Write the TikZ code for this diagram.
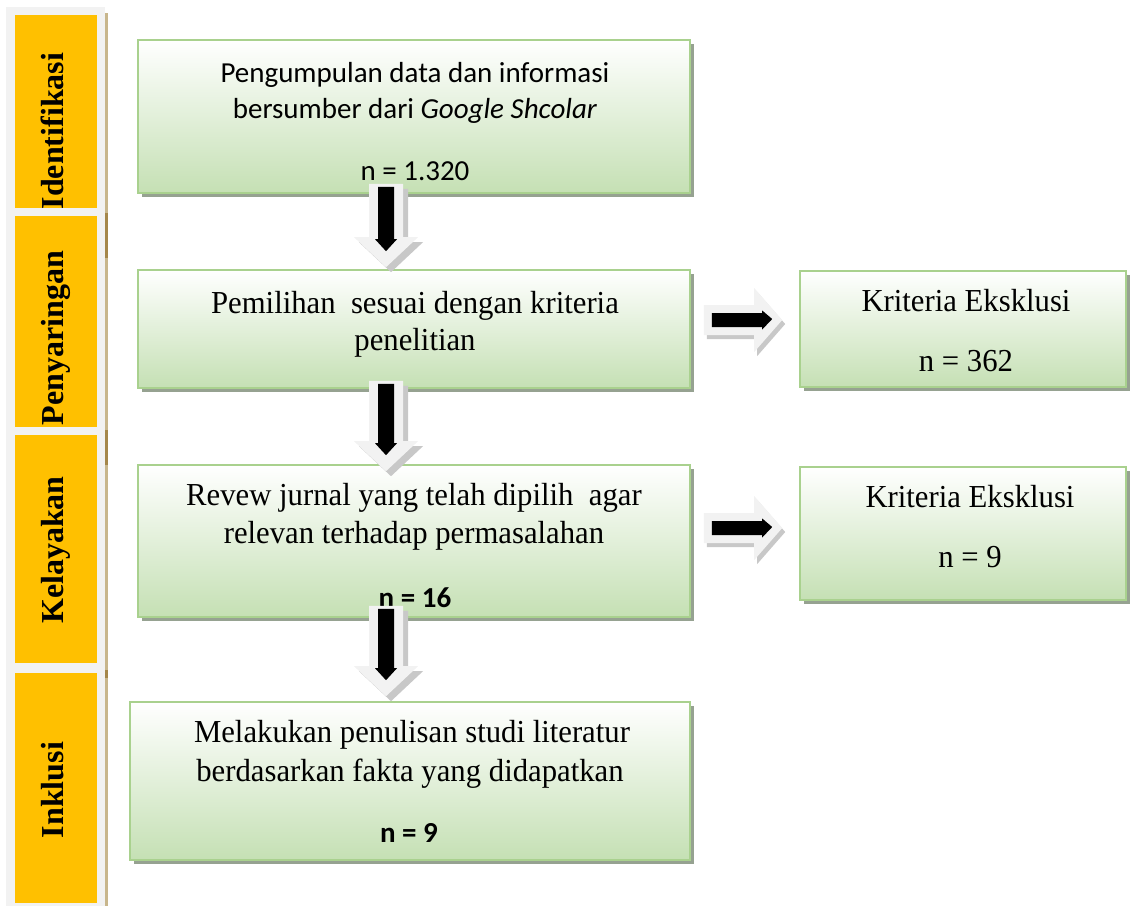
\documentclass[tikz,border=0pt]{standalone}
\usepackage{fontspec}
\setmainfont{Liberation Serif}
\newfontfamily\boxserif[FakeStretch=0.96]{Liberation Serif}
\newfontfamily\calibri{Carlito}
\usetikzlibrary{calc,shadows}
\definecolor{boxgreen}{RGB}{169,209,142}
\definecolor{boxfill}{RGB}{197,224,180}
\definecolor{shadowc}{RGB}{150,162,145}
\definecolor{orangec}{RGB}{255,192,0}
\definecolor{panelgray}{RGB}{242,242,242}
\definecolor{tanline}{RGB}{200,182,140}
\definecolor{tandark}{RGB}{165,135,75}
\definecolor{arrowfill}{RGB}{242,242,242}
\definecolor{arrowshadow}{RGB}{200,200,200}
\tikzset{
  greenbox/.style={draw=boxgreen, line width=1.6pt, top color=white, bottom color=boxfill, inner sep=0pt,
    general shadow={fill=shadowc, shadow xshift=4pt, shadow yshift=-4pt}},
  stagebox/.style={fill=orangec, inner sep=0pt},
  stagelabel/.style={rotate=90, anchor=base, font=\fontsize{32}{36}\selectfont\bfseries, inner sep=0pt},
  serif/.style={font=\boxserif\fontsize{32}{36}\selectfont, inner sep=0pt, anchor=base},
  sanstext/.style={font=\calibri\fontsize{29}{34}\selectfont, inner sep=0pt, anchor=base},
  sansbold/.style={font=\calibri\bfseries\fontsize{29}{34}\selectfont, inner sep=0pt, anchor=base},
  hollowdown/.style={fill=arrowfill, general shadow={fill=arrowshadow, shadow xshift=5pt, shadow yshift=-5pt}},
  hollowright/.style={fill=arrowfill, general shadow={fill=arrowshadow, shadow xshift=3pt, shadow yshift=-4pt}},
  blackarrow/.style={fill=black},
}
\newcommand\downconn[2]{%
  \path[hollowdown] let \p1=(#1), \p2=(#2) in
    ({\x1-17pt},\y1) -- ({\x1+17pt},\y1) -- ({\x1+17pt},{\y2+30pt}) -- ({\x1+32pt},{\y2+30pt})
    -- (\x1,\y2) -- ({\x1-32pt},{\y2+30pt}) -- ({\x1-17pt},{\y2+30pt}) -- cycle;
  \path[blackarrow] let \p1=(#1), \p2=(#2) in
    ({\x1-8pt},{\y1-3pt}) -- ({\x1+8pt},{\y1-3pt}) -- ({\x1+8pt},{\y2+28pt}) -- ({\x1+11pt},{\y2+28pt})
    -- (\x1,{\y2+16pt}) -- ({\x1-11pt},{\y2+28pt}) -- ({\x1-8pt},{\y2+28pt}) -- cycle;
}
\newcommand\rightconn[2]{%
  \path[hollowright] let \p1=(#1), \p2=(#2) in
    (\x1,{\y1+15pt}) -- ({\x2-28pt},{\y1+15pt}) -- ({\x2-28pt},{\y1+32pt}) -- (\x2,\y1)
    -- ({\x2-28pt},{\y1-32pt}) -- ({\x2-28pt},{\y1-15pt}) -- (\x1,{\y1-15pt}) -- cycle;
  \path[blackarrow] let \p1=(#1), \p2=(#2) in
    ({\x1+8pt},{\y1+7pt}) -- ({\x2-20pt},{\y1+7pt}) -- ({\x2-20pt},{\y1+9.5pt}) -- ({\x2-10pt},{\y1+1pt})
    -- ({\x2-20pt},{\y1-9.5pt}) -- ({\x2-20pt},{\y1-7pt}) -- ({\x1+8pt},{\y1-7pt}) -- cycle;
}
\begin{document}
\begin{tikzpicture}[x=1pt,y=-1pt]
\useasboundingbox (0,0) rectangle (1131,908);
% left stage column
\fill[panelgray] (6,7) rectangle (105,906);
\draw[tanline, line width=3pt] (106.5,13) -- (106.5,906);
\foreach \a/\b in {213/258, 430/465, 670/678}
  \draw[tandark, line width=3pt] (106.5,\a) -- (106.5,\b);
\node[stagebox, minimum width=82, minimum height=193] (s1) at (56,111.5) {};
\node[stagebox, minimum width=82, minimum height=211] (s2) at (56,321.5) {};
\node[stagebox, minimum width=82, minimum height=228] (s3) at (56,549) {};
\node[stagebox, minimum width=82, minimum height=230] (s4) at (56,788) {};
\node[stagelabel] (l1) at (63,131) {Identifikasi};
\node[stagelabel] (l2) at (63,338) {Penyaringan};
\node[stagelabel] (l3) at (63,550) {Kelayakan};
\node[stagelabel] (l4) at (63,790) {Inklusi};
% main boxes
\node[greenbox, minimum width=552, minimum height=153] (b1) at (414,116.5) {};
\node[greenbox, minimum width=552, minimum height=118] (b2) at (414,329) {};
\node[greenbox, minimum width=552, minimum height=152] (b3) at (414,541) {};
\node[greenbox, minimum width=560, minimum height=158] (b4) at (410,781) {};
\node[greenbox, minimum width=326, minimum height=116] (r1) at (963,329) {};
\node[greenbox, minimum width=326, minimum height=133] (r2) at (963,533.5) {};
% texts
\node[sanstext] (t1a) at (415,82) {Pengumpulan data dan informasi};
\node[sanstext] (t1b) at (415,118) {bersumber dari \textit{Google Shcolar}};
\node[sanstext] (t1c) at (415,180) {n = 1.320};
\node[serif] (t2a) at (415,313) {Pemilihan~ sesuai dengan kriteria};
\node[serif] (t2b) at (415,350) {penelitian};
\node[serif] (t3a) at (414,505) {Revew jurnal yang telah dipilih~ agar};
\node[serif] (t3b) at (414,543) {relevan terhadap permasalahan};
\node[sansbold] (t3c) at (415,607) {n = 16};
\node[serif] (t4a) at (412,742) {Melakukan penulisan studi literatur};
\node[serif] (t4b) at (410,781) {berdasarkan fakta yang didapatkan};
\node[sansbold] (t4c) at (409,842) {n = 9};
\node[serif] (tr1a) at (966,311) {Kriteria Eksklusi};
\node[serif] (tr1b) at (966,371) {n = 362};
\node[serif] (tr2a) at (970,507) {Kriteria Eksklusi};
\node[serif] (tr2b) at (970,567) {n = 9};
% connector end points
\coordinate (d1s) at ($(b1.south)+(-28,-10)$);
\coordinate (d1e) at ($(b2.north)+(-28,-2)$);
\coordinate (d2s) at ($(b2.south)+(-28,-8)$);
\coordinate (d2e) at ($(b3.north)+(-28,7)$);
\coordinate (d3s) at ($(b3.south)+(-28,-12)$);
\coordinate (d3e) at ($(b4.north)+(-24,-5)$);
\coordinate (h1s) at ($(b2.east)+(13,-9)$);
\coordinate (h1e) at ($(r1.west)+(-17,-9)$);
\coordinate (h2s) at ($(b3.east)+(13,-13)$);
\coordinate (h2e) at ($(r2.west)+(-17,-5.5)$);
\downconn{d1s}{d1e}
\downconn{d2s}{d2e}
\downconn{d3s}{d3e}
\rightconn{h1s}{h1e}
\rightconn{h2s}{h2e}
\end{tikzpicture}
\end{document}
